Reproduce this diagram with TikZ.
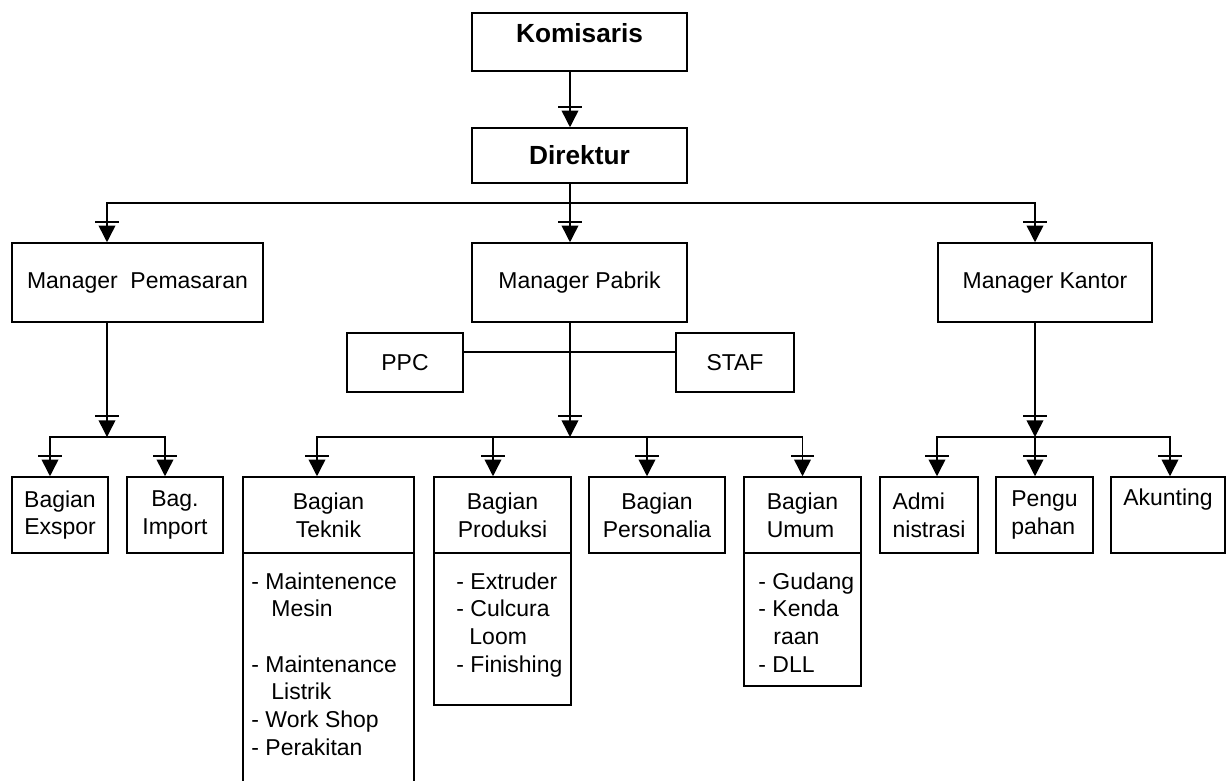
\documentclass[tikz,border=0pt]{standalone}
\usepackage{fontspec}
\setmainfont{Liberation Sans}
\usetikzlibrary{arrows.meta}
\newcommand{\pxu}{0.03cm}
\newcommand{\fs}{\fontsize{19.6}{23.6}\selectfont}
\newcommand{\fb}{\fontsize{22.4}{26}\selectfont\bfseries}
\tikzset{
  box/.style={draw, line width=1.3pt, inner sep=0pt, font=\fs, align=center},
  bx/.style 2 args={box, minimum width=#1*\pxu, minimum height=#2*\pxu},
  lst/.style={anchor=north west, inner sep=0pt, font=\fs, align=left},
  con/.style={line width=1.3pt},
  arr/.style={con, -{Bar[width=7mm,line width=1.6pt,sep=0.9mm]Triangle[length=5mm,width=5mm]}}
}

\begin{document}
\begin{tikzpicture}[x=\pxu, y=-\pxu]
\useasboundingbox (0,0) rectangle (1227,781);
\clip (0,0) rectangle (1227,781);
\fill[white] (0,0) rectangle (1227,781);
% Top
\node[bx={215}{58}, font=\fb, text height=0.72em, text depth=0.72em] (kom) at (579.5,42) {Komisaris};
\node[bx={215}{55}, font=\fb] (dir) at (579.5,155.5) {Direktur};
% Managers
\node[bx={251}{79}] (pem) at (137.5,282.5) {Manager\ \ Pemasaran};
\node[bx={215}{79}] (pab) at (579.5,282.5) {Manager Pabrik};
\node[bx={214}{79}] (kan) at (1045,282.5) {Manager Kantor};
\node[bx={116}{59}] (ppc) at (405,362.5) {PPC};
\node[bx={118}{59}] (staf) at (735,362.5) {STAF};
% Bagian
\node[bx={96}{76}] (exs) at (60,515) {Bagian\\Exspor};
\node[bx={96}{76}] (imp) at (175,515) {Bag.\\Import};
\node[bx={171}{76}] (tek) at (328.5,515) {Bagian\\Teknik};
\node[bx={137}{76}] (pro) at (502.5,515) {Bagian\\Produksi};
\node[bx={136}{76}] (per) at (657,515) {Bagian\\Personalia};
\node[bx={117}{76}, align=left] (umu) at (802.5,515) {Bagian\\Umum};
\node[bx={98}{76}, align=left] (adm) at (929,515) {Admi\\nistrasi};
\node[bx={97}{76}, align=left] (pen) at (1044.5,515) {Pengu\\pahan};
\node[bx={114}{76}, align=left] (aku) at (1168,515) {Akunting\\\strut};
% Rincian
\node[bx={171}{260}] (tekb) at (328.5,683) {};
\node[bx={137}{152}] (prob) at (502.5,629) {};
\node[bx={117}{133}] (umub) at (802.5,619.5) {};
\node[lst] (tekl) at ([xshift=9*\pxu, yshift=-20*\pxu]tekb.north west)
  {- Maintenence\\\hspace*{0.6cm}Mesin\\[23.6pt]- Maintenance\\\hspace*{0.6cm}Listrik\\- Work Shop\\- Perakitan};
\node[lst] (prol) at ([xshift=23*\pxu, yshift=-20*\pxu]prob.north west)
  {- Extruder\\- Culcura\\\hspace*{0.39cm}Loom\\- Finishing};
\node[lst] (umul) at ([xshift=15*\pxu, yshift=-20*\pxu]umub.north west)
  {- Gudang\\- Kenda\\\hspace*{0.45cm}raan\\- DLL};
% Garis
\coordinate (j1) at (570,203);
\coordinate (jpem) at (107,437);
\coordinate (jpab) at (570,437);
\coordinate (jkan) at (1035,437);
\draw[arr] ([xshift=-9.5*\pxu]kom.south) -- ([xshift=-9.5*\pxu]dir.north);
\draw[con] ([xshift=-9.5*\pxu]dir.south) -- (j1);
\draw[arr] (j1) -| ([xshift=-30.5*\pxu]pem.north);
\draw[arr] (j1) -- ([xshift=-9.5*\pxu]pab.north);
\draw[arr] (j1) -| ([xshift=-10*\pxu]kan.north);
\draw[con] ([yshift=10.5*\pxu]ppc.east) -- ([yshift=10.5*\pxu]staf.west);
\draw[arr] ([xshift=-30.5*\pxu]pem.south) -- (jpem);
\draw[arr] ([xshift=-9.5*\pxu]pab.south) -- (jpab);
\draw[arr] ([xshift=-10*\pxu]kan.south) -- (jkan);
\draw[arr] (jpem) -| ([xshift=-10*\pxu]exs.north);
\draw[arr] (jpem) -| ([xshift=-10*\pxu]imp.north);
\draw[arr] (jpab) -| ([xshift=-11.5*\pxu]tek.north);
\draw[arr] (jpab) -| ([xshift=-9.5*\pxu]pro.north);
\draw[arr] (jpab) -| ([xshift=-10*\pxu]per.north);
\draw[arr] (jpab) -| (umu.north);
\draw[arr] (jkan) -| ([xshift=8*\pxu]adm.north);
\draw[arr] (jkan) -| ([xshift=-9.5*\pxu]pen.north);
\draw[arr] (jkan) -| ([xshift=2*\pxu]aku.north);
\end{tikzpicture}
\end{document}
